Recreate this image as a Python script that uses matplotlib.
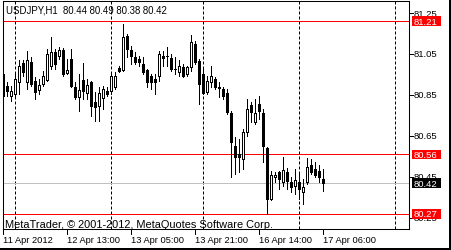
"""
USDJPY H1 candlestick chart in the MetaTrader 4 look
"""

import numpy as np
import pandas as pd
import matplotlib
matplotlib.use('Agg')
import matplotlib.pyplot as plt
from matplotlib.patches import Rectangle
from matplotlib.transforms import blended_transform_factory

# hourly bars, 11 Apr 2012 21:00 .. 17 Apr 2012 06:00 (13 Apr 23:00 missing)
times = pd.DatetimeIndex(
    list(pd.date_range('2012-04-11 21:00', '2012-04-13 22:00', freq='h')) +
    list(pd.date_range('2012-04-16 00:00', '2012-04-17 06:00', freq='h')))

opens = [80.952, 80.894, 80.845, 80.855, 80.913, 81.006, 80.913, 81.011, 80.918, 80.874,
         80.903, 80.923, 80.991, 81.059, 81.040, 81.069, 80.957, 81.025, 80.889, 80.840,
         80.923, 80.859, 80.913, 80.816, 80.796, 80.835, 80.869, 80.869, 80.889, 80.981,
         80.972, 81.138, 81.069, 81.035, 81.025, 81.001, 80.972, 80.942, 80.928, 80.942,
         81.040, 81.041, 81.030, 80.978, 80.962, 80.986, 80.952, 80.986, 81.098, 81.016,
         80.952, 80.864, 80.913, 80.928, 80.889, 80.879, 80.860, 80.762, 80.601, 80.562,
         80.538, 80.669, 80.801, 80.718, 80.806, 80.762, 80.591, 80.342, 80.450, 80.474,
         80.425, 80.474, 80.425, 80.406, 80.425, 80.377, 80.425, 80.508, 80.489, 80.479,
         80.440]
highs = [80.967, 80.913, 80.894, 80.962, 81.020, 81.020, 81.064, 81.035, 80.938, 80.928,
         80.967, 81.074, 81.133, 81.074, 81.084, 81.079, 81.025, 81.074, 80.913, 80.952,
         81.006, 80.928, 80.918, 80.864, 80.889, 80.894, 80.889, 80.952, 80.962, 80.991,
         81.196, 81.147, 81.089, 81.059, 81.040, 81.035, 80.977, 80.952, 80.952, 81.064,
         81.064, 81.084, 81.050, 81.035, 81.020, 81.001, 80.991, 81.142, 81.113, 81.025,
         80.977, 80.942, 80.991, 80.938, 80.913, 80.889, 80.879, 80.772, 80.645, 80.635,
         80.684, 80.830, 80.816, 80.830, 80.845, 80.781, 80.596, 80.479, 80.474, 80.479,
         80.547, 80.494, 80.450, 80.489, 80.464, 80.440, 80.543, 80.538, 80.523, 80.508,
         80.490]
lows = [80.830, 80.845, 80.820, 80.840, 80.855, 80.942, 80.879, 80.894, 80.830, 80.855,
        80.894, 80.918, 80.977, 80.977, 81.025, 80.942, 80.952, 80.889, 80.830, 80.772,
        80.830, 80.830, 80.747, 80.723, 80.723, 80.781, 80.845, 80.855, 80.879, 80.962,
        80.967, 81.035, 81.001, 81.001, 80.991, 80.952, 80.889, 80.879, 80.855, 80.918,
        80.991, 80.991, 80.967, 80.952, 80.942, 80.938, 80.942, 80.967, 81.001, 80.806,
        80.855, 80.855, 80.889, 80.879, 80.840, 80.830, 80.757, 80.450, 80.464, 80.474,
        80.489, 80.650, 80.718, 80.708, 80.733, 80.523, 80.270, 80.338, 80.425, 80.391,
        80.406, 80.391, 80.377, 80.367, 80.342, 80.318, 80.416, 80.464, 80.450, 80.425,
        80.380]
closes = [80.845, 80.869, 80.869, 80.928, 80.991, 80.962, 81.020, 80.903, 80.864, 80.898,
          80.942, 81.050, 81.059, 81.001, 81.069, 80.952, 80.972, 80.894, 80.840, 80.874,
          80.869, 80.898, 80.796, 80.791, 80.859, 80.879, 80.855, 80.942, 80.942, 80.967,
          81.133, 81.074, 81.040, 81.011, 81.011, 80.962, 80.913, 80.913, 80.913, 81.050,
          81.030, 81.039, 80.977, 80.976, 80.991, 80.942, 80.986, 81.108, 81.011, 80.903,
          80.860, 80.918, 80.942, 80.889, 80.884, 80.845, 80.767, 80.620, 80.547, 80.547,
          80.669, 80.781, 80.767, 80.762, 80.772, 80.601, 80.342, 80.460, 80.460, 80.440,
          80.484, 80.430, 80.401, 80.435, 80.391, 80.401, 80.499, 80.474, 80.460, 80.450,
          80.420]

price_ticks = [81.25, 81.05, 80.85, 80.65, 80.45, 80.25]
red_levels = [81.21, 80.56, 80.27]
bid = 80.42
symbol = 'USDJPY,H1'
copyright_text = 'MetaTrader, \u00a9 2001-2012, MetaQuotes Software Corp.'

W, H = 451, 251
FONT = 'Liberation Sans'
LW = 0.72  # one pixel at 100 dpi


def px_to_fig(x, y):
    return x / W, 1 - y / H


def main():
    fig = plt.figure(figsize=(W / 100, H / 100), dpi=100, facecolor='white')
    # plot frame: x 2.5..409, y 1.5..230 (pixels from top-left)
    l, t = px_to_fig(2.5, 1.5)
    r, b = px_to_fig(409, 230)
    ax = fig.add_axes([l, b, r - l, t - b])
    ax.set_facecolor('white')

    n = len(times)
    idx = np.arange(n)
    ax.set_xlim(-0.125, 101.5)
    ax.set_ylim(80.196, 81.311)

    for s in ax.spines.values():
        s.set_color('black')
        s.set_linewidth(0.75)
    ax.set_xticks([])
    ax.set_yticks([])

    # day separators (first bar of each day), plus the next one in the empty area
    seps = list(idx[times.hour == 0])
    seps.append(seps[-1] + 24)
    for s in seps:
        ax.axvline(s, color='black', lw=LW, dashes=(3, 2), zorder=1, snap=True)

    ax.hlines(red_levels, -1, n + 30, colors='#ff0000', lw=LW, zorder=2, snap=True)
    ax.axhline(bid, color='#c0c0c0', lw=LW, zorder=2, snap=True)

    # candles
    ax.vlines(idx, lows, highs, color='black', lw=LW, zorder=3, antialiased=False)
    for i in idx:
        o, c = opens[i], closes[i]
        lo, hi = min(o, c), max(o, c)
        hgt = max(hi - lo, 0.0001)
        face = 'white' if c > o else 'black'
        ax.add_patch(Rectangle((i - 0.3, lo), 0.6, hgt, facecolor=face,
                               edgecolor='black', lw=LW, zorder=4,
                               antialiased=False))

    # price scale on the right
    tr = blended_transform_factory(fig.transFigure, ax.transData)
    for p in price_ticks:
        ax.plot([409 / W, 413 / W], [p, p], color='black', lw=LW,
                transform=tr, clip_on=False, antialiased=False)
        ax.text(414 / W, p, f'{p:.2f}', transform=tr, fontsize=6.8,
                family=FONT, va='center', ha='left')

    box_h = 9.5 / 205
    for lv, col in [(81.21, '#ff0000'), (80.56, '#ff0000'),
                    (80.27, '#ff0000'), (bid, 'black')]:
        ax.add_patch(Rectangle((411.5 / W, lv - box_h / 2), 29.5 / W, box_h,
                               transform=tr, facecolor=col, edgecolor='none',
                               clip_on=False, zorder=6))
        ax.text(413.5 / W, lv, f'{lv:.2f}', transform=tr, fontsize=6.8,
                family=FONT, va='center', ha='left', color='white', zorder=7)

    # time scale
    trx = blended_transform_factory(ax.transData, fig.transFigure)
    for i in range(0, n, 16):
        ts = times[i]
        lab = ts.strftime('%d %b %Y') if i == 0 else ts.strftime('%d %b %H:%M')
        ax.plot([i, i], [1 - 230 / H, 1 - 235 / H], color='black', lw=LW,
                transform=trx, clip_on=False, antialiased=False)
        ax.text(i + 0.1, 1 - 240.5 / H, lab, transform=trx, fontsize=6.7,
                family=FONT, va='center', ha='left')

    # header and copyright
    fig.text(6 / W, 1 - 10.5 / H,
             f'{symbol}  {opens[-1]:.2f} {highs[-1]:.2f} {lows[-1]:.2f} {closes[-1]:.2f}',
             fontsize=6.9, family=FONT, va='center', ha='left')
    fig.text(5 / W, 1 - 225.5 / H, copyright_text, fontsize=7.95, family=FONT,
             va='center', ha='left')

    # window shadow on the right and bottom
    fig.patches.append(Rectangle((449 / W, 0), 2 / W, 1, transform=fig.transFigure,
                                 facecolor='black', edgecolor='none'))
    fig.patches.append(Rectangle((0, 0), 1, 2.5 / H, transform=fig.transFigure,
                                 facecolor='black', edgecolor='none'))

    fig.savefig('out.png', dpi=100, facecolor='white')
    plt.close(fig)


if __name__ == '__main__':
    main()
